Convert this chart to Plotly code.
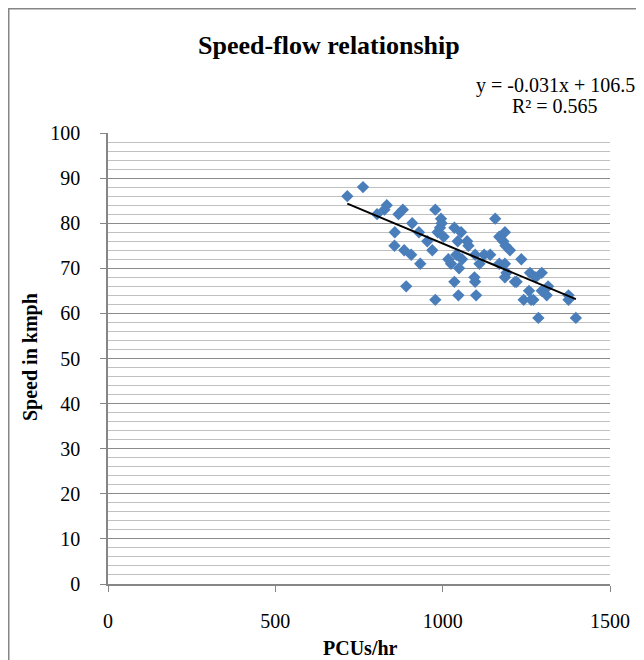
import plotly.graph_objects as go

# Data
flow_pcu_hr = [715, 762, 804, 826, 833, 868, 881, 909, 857, 929, 954, 856, 885, 906, 969,
               933, 891, 978, 978, 995, 997, 992, 985, 1003, 1035, 1055, 1045, 1073, 1077,
               1041, 1017, 1025, 1058, 1049, 1097, 1110, 1124, 1142, 1157, 1169, 1186, 1181,
               1188, 1201, 1169, 1186, 1235, 1191, 1186, 1216, 1095, 1097, 1035, 1047, 1100,
               1242, 1261, 1278, 1296, 1315, 1296, 1311, 1258, 1264, 1271, 1376, 1376, 1286,
               1398, 1221]
speed_kmph = [86, 88, 82, 83, 84, 82, 83, 80, 78, 78, 76, 75, 74, 73, 74,
              71, 66, 63, 83, 81, 80, 79, 78, 77, 79, 78, 76, 76, 75,
              73, 72, 71, 72, 70, 73, 71, 73, 73, 81, 77, 78, 76,
              75, 74, 71, 71, 72, 69, 68, 67, 68, 67, 67, 64, 64,
              63, 69, 68, 69, 66, 65, 64, 65, 63, 63, 64, 63, 59,
              59, 67]

trend_slope = -0.031
trend_intercept = 106.5
chart_title = "Speed-flow relationship"
equation_line = "y = -0.031x + 106.5"
r2_line = "R² = 0.565"
x_title = "PCUs/hr"
y_title = "Speed in kmph"

x_ticks = [0, 500, 1000, 1500]
y_ticks = [0, 10, 20, 30, 40, 50, 60, 70, 80, 90, 100]

FONT = "Liberation Serif"

x_min, x_max = min(flow_pcu_hr), max(flow_pcu_hr)
trend_x = [x_min, x_max]
trend_y = [trend_intercept + trend_slope * v for v in trend_x]

# figure-pixel helpers (plot area: x 100..602, y 125..576)
L, R, T, B = 100, 602, 125, 576
def px(fx):
    return (fx - L) / (R - L)
def py(fy):
    return (B - fy) / (B - T)

fig = go.Figure()
fig.add_trace(go.Scatter(
    x=flow_pcu_hr, y=speed_kmph, mode="markers",
    marker=dict(symbol="diamond", size=9.5, color="#4a7ebb",
                line=dict(width=0)),
    showlegend=False, hoverinfo="x+y"))
fig.add_trace(go.Scatter(
    x=trend_x, y=trend_y, mode="lines",
    line=dict(color="black", width=2), showlegend=False, hoverinfo="skip"))

tf = dict(family=FONT, size=20, color="black")

fig.update_layout(
    width=644, height=660,
    margin=dict(l=L, r=644 - R, t=T, b=660 - B),
    paper_bgcolor="white", plot_bgcolor="white",
    font=dict(family=FONT, size=20, color="black"),
    xaxis=dict(range=[0, 1500], tickvals=x_ticks, showgrid=False, zeroline=False,
               showline=True, linecolor="#868686", linewidth=2,
               ticks="outside", ticklen=6, tickcolor="#868686", tickwidth=1,
               ticklabelstandoff=12, tickfont=tf),
    yaxis=dict(range=[0, 100], tickvals=y_ticks, showgrid=True, gridcolor="#8c8c8c",
               gridwidth=1.2, zeroline=False,
               showline=True, linecolor="#868686", linewidth=1.5,
               ticks="outside", ticklen=6, tickcolor="#868686", tickwidth=1,
               ticklabelstandoff=16,
               minor=dict(dtick=2, showgrid=True, gridcolor="#c0c0c0", gridwidth=1),
               tickfont=tf),
    shapes=[dict(type="rect", xref="paper", yref="paper",
                 x0=px(0.75), x1=px(700), y0=py(700), y1=py(0.75),
                 line=dict(color="#868686", width=1.5), fillcolor="rgba(0,0,0,0)",
                 layer="below")],
    annotations=[
        dict(text="<b>" + chart_title + "</b>", xref="paper", yref="paper",
             x=px(321), y=py(37), xanchor="center", yanchor="middle",
             showarrow=False, font=dict(family=FONT, size=26, color="black")),
        dict(text=equation_line, xref="paper", yref="paper",
             x=px(547), y=py(77), xanchor="center", yanchor="middle",
             showarrow=False, font=tf),
        dict(text=r2_line, xref="paper", yref="paper",
             x=px(547), y=py(98), xanchor="center", yanchor="middle",
             showarrow=False, font=tf),
        dict(text="<b>" + x_title + "</b>", xref="paper", yref="paper",
             x=px(352), y=py(640), xanchor="center", yanchor="middle",
             showarrow=False, font=tf),
        dict(text="<b>" + y_title + "</b>", xref="paper", yref="paper",
             x=px(22), y=py(349), xanchor="center", yanchor="middle", textangle=-90,
             showarrow=False, font=tf),
    ],
)

fig.write_html("out.html")
